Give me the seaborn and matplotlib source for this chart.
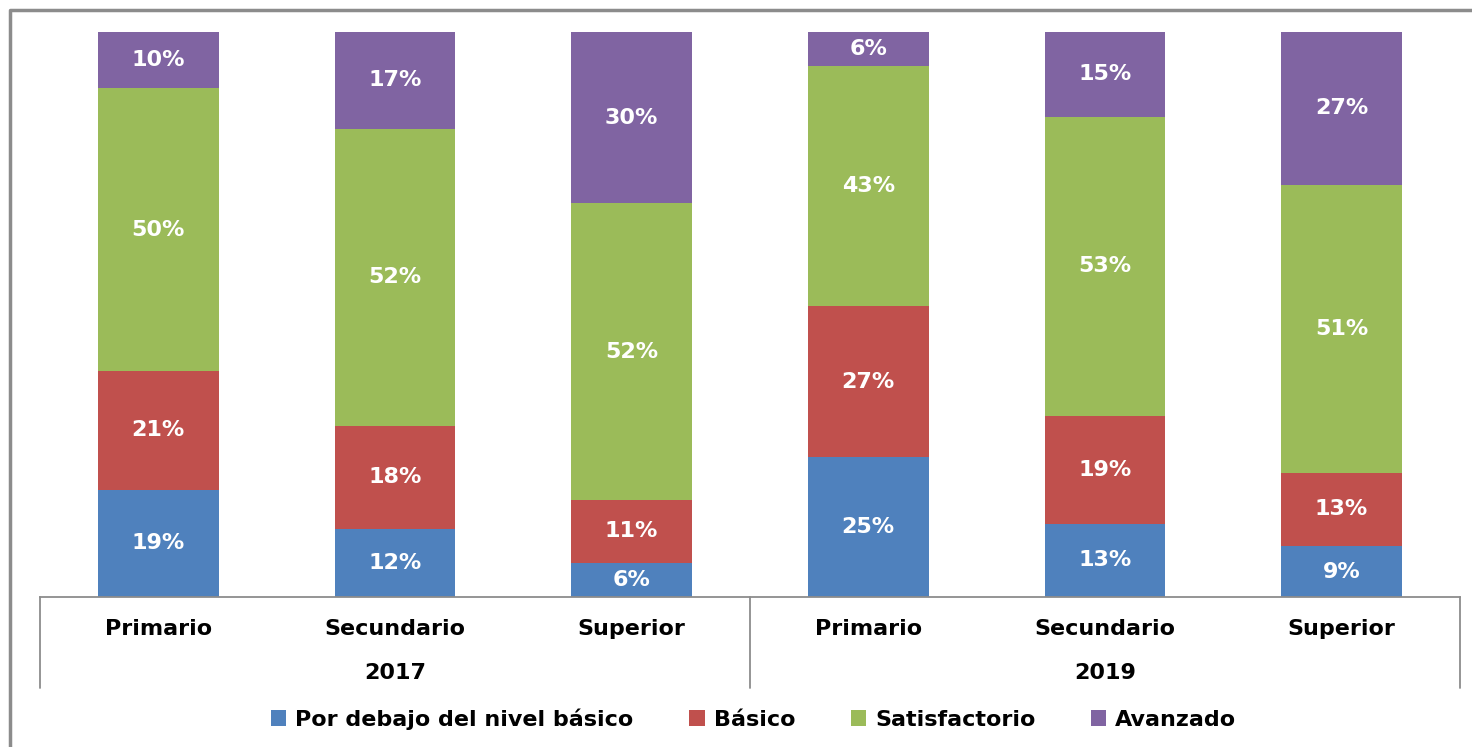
import pandas as pd
import seaborn as sns
import matplotlib.pyplot as plt
from matplotlib.patches import Patch
from matplotlib.lines import Line2D

# Data (percent of students per level)
years = ['2017', '2019']
levels = ['Primario', 'Secundario', 'Superior']
series = ['Por debajo del nivel básico', 'Básico', 'Satisfactorio', 'Avanzado']
colors = ['#4F81BD', '#C0504D', '#9BBB59', '#8064A2']

por_debajo = [19, 12, 6, 25, 13, 9]
basico = [21, 18, 11, 27, 19, 13]
satisfactorio = [50, 52, 52, 43, 53, 51]
avanzado = [10, 17, 30, 6, 15, 27]

# Build the table
keys = [f'{lv} {yr}' for yr in years for lv in levels]
df = pd.DataFrame({'key': keys, series[0]: por_debajo, series[1]: basico,
                   series[2]: satisfactorio, series[3]: avanzado})
total = df[series].sum(axis=1)
for s in series:
    df[s + '_share'] = df[s] / total
cum = df[[s + '_share' for s in series]].cumsum(axis=1)
cum.columns = series
for s in series:
    df[s + '_cum'] = cum[s]

sns.set_style('white')
plt.rcParams['font.family'] = ['DejaVu Sans']
plt.rcParams['font.weight'] = 'bold'
plt.rcParams['text.color'] = 'black'

fs = 16
fig = plt.figure(figsize=(14.72, 7.47), dpi=100)
ax = fig.add_axes([0.0272, 0.2008, 0.9646, 0.7564])

# Stacked bars: draw cumulative totals from the top layer down
for s, c in reversed(list(zip(series, colors))):
    sns.barplot(data=df, x='key', y=s + '_cum', order=keys, color=c,
                saturation=1, width=0.51, linewidth=0, errorbar=None, ax=ax)

# Value labels in the middle of each segment
for i in range(len(df)):
    for s in series:
        top = df.loc[i, s + '_cum']
        h = df.loc[i, s + '_share']
        ax.text(i, top - h / 2, f'{df.loc[i, s]}%', ha='center', va='center',
                color='white', fontsize=fs, fontweight='bold')

ax.set_xlim(-0.5, len(keys) - 0.5)
ax.set_ylim(0, 1)
ax.set_xlabel('')
ax.set_ylabel('')
ax.set_yticks([])
ax.set_xticks(range(len(keys)))
ax.set_xticklabels(levels * len(years), fontsize=fs, fontweight='bold')
ax.tick_params(axis='x', length=0, pad=16, colors='black')
for side in ['top', 'right', 'left']:
    ax.spines[side].set_visible(False)
ax.spines['bottom'].set_color('#8c8c8c')
ax.spines['bottom'].set_linewidth(1.3)

# Group separators and year labels
trans = ax.get_xaxis_transform()
n = len(levels)
for g in range(len(years) + 1):
    x = g * n - 0.5
    ax.plot([x, x], [0, -0.161], transform=trans, color='#8c8c8c',
            linewidth=1.3, clip_on=False)
for g, yr in enumerate(years):
    ax.text(g * n + (n - 1) / 2, -0.1345, yr, transform=trans, ha='center',
            va='center', fontsize=fs, fontweight='bold', color='black')

# Legend
handles = [Patch(facecolor=c, edgecolor='none', label=s) for s, c in zip(series, colors)]
leg = fig.legend(handles=handles, loc='center', bbox_to_anchor=(0.512, 0.0375),
                 ncol=4, frameon=False, fontsize=fs, handlelength=0.7,
                 handleheight=0.7, handletextpad=0.4, columnspacing=2.5)
for t in leg.get_texts():
    t.set_color('black')

# Outer chart frame (top and left edges visible)
fig.add_artist(Line2D([0.0068, 0.0068, 1.0], [0.0, 0.9866, 0.9866],
                      transform=fig.transFigure, color='#8c8c8c', linewidth=2.5))

fig.savefig('out.png', dpi=100)
